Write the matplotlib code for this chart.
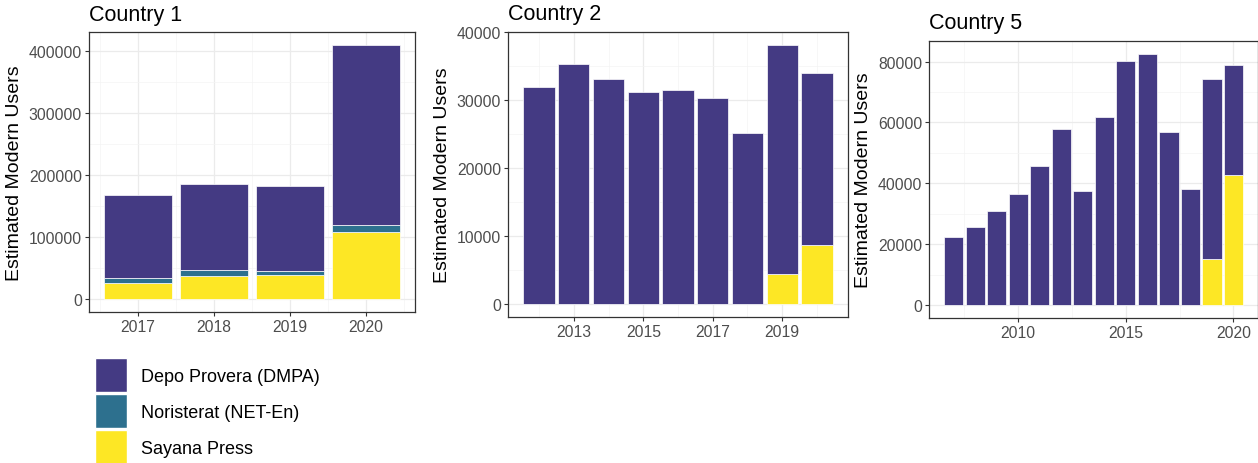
import numpy as np
import matplotlib.pyplot as plt
from matplotlib.patches import Patch
from matplotlib.ticker import MultipleLocator

plt.rcParams['font.family'] = ['Liberation Sans', 'DejaVu Sans']

# colours (viridis-like)
depo_col = '#443A83'
nori_col = '#2D708E'
saya_col = '#FDE725'

# Country 1
c1_years = [2017, 2018, 2019, 2020]
c1_depo = [132000, 138500, 137000, 290000]
c1_nori = [8000, 9500, 7000, 10500]
c1_saya = [27000, 38000, 38500, 109000]

# Country 2
c2_years = [2012, 2013, 2014, 2015, 2016, 2017, 2018, 2019, 2020]
c2_depo = [31900, 35300, 33200, 31200, 31500, 30400, 25250, 33750, 25300]
c2_nori = [0, 0, 0, 0, 0, 0, 0, 0, 0]
c2_saya = [0, 0, 0, 0, 0, 0, 0, 4400, 8750]

# Country 5
c5_years = [2007, 2008, 2009, 2010, 2011, 2012, 2013, 2014, 2015, 2016, 2017, 2018, 2019, 2020]
c5_depo = [22400, 25600, 30900, 36700, 45800, 58000, 37600, 61700, 80100, 82600, 56900, 38050, 59000, 36000]
c5_nori = [0] * 14
c5_saya = [0, 0, 0, 0, 0, 0, 0, 0, 0, 0, 0, 200, 15200, 42800]

legend_labels = ['Depo Provera (DMPA)', 'Noristerat (NET-En)', 'Sayana Press']

fig = plt.figure(figsize=(12.58, 4.64), dpi=100)

panels = [
    ('Country 1', c1_years, c1_depo, c1_nori, c1_saya, [0.0707, 0.3254, 0.2591, 0.6034],
     [2017, 2018, 2019, 2020], 100000),
    ('Country 2', c2_years, c2_depo, c2_nori, c2_saya, [0.4038, 0.3147, 0.2703, 0.6142],
     [2013, 2015, 2017, 2019], 10000),
    ('Country 5', c5_years, c5_depo, c5_nori, c5_saya, [0.7385, 0.3125, 0.2615, 0.5970],
     [2010, 2015, 2020], 20000),
]

for title, years, depo, nori, saya, rect, xt, ystep in panels:
    ax = fig.add_axes(rect)
    years = np.array(years)
    depo = np.array(depo)
    nori = np.array(nori)
    saya = np.array(saya)
    kw = dict(width=0.9, edgecolor='white', linewidth=0.5, zorder=3)
    ax.bar(years, saya, color=saya_col, **kw)
    ax.bar(years, nori, bottom=saya, color=nori_col, **kw)
    ax.bar(years, depo, bottom=saya + nori, color=depo_col, **kw)

    # ggplot-like expansion
    lo, hi = years.min() - 0.45, years.max() + 0.45
    pad = (hi - lo) * 0.05
    ax.set_xlim(lo - pad, hi + pad)
    top = (depo + nori + saya).max()
    ax.set_ylim(-top * 0.05, top * 1.05)

    ax.set_xticks(xt)
    xminor = (xt[1] - xt[0]) / 2
    ax.xaxis.set_minor_locator(MultipleLocator(xminor))
    ax.yaxis.set_major_locator(MultipleLocator(ystep))
    ax.yaxis.set_minor_locator(MultipleLocator(ystep / 2))
    ax.ticklabel_format(axis='y', style='plain', useOffset=False)

    ax.grid(which='major', color='#EBEBEB', lw=0.9, zorder=0)
    ax.grid(which='minor', color='#F4F4F4', lw=0.5, zorder=0)
    ax.set_axisbelow(True)
    for s in ax.spines.values():
        s.set_color('#333333')
        s.set_linewidth(0.9)
    ax.tick_params(which='major', length=3, width=0.8, color='#333333',
                   labelsize=11.3, labelcolor='#4D4D4D', pad=2)
    ax.tick_params(which='minor', length=0)
    ax.set_ylabel('Estimated Modern Users', fontsize=14, color='black', labelpad=4)
    ax.set_title(title, loc='left', fontsize=15.5, pad=9)

handles = [Patch(facecolor=c, edgecolor='white') for c in [depo_col, nori_col, saya_col]]
fig.legend(handles, legend_labels, loc='upper left', bbox_to_anchor=(0.0694, 0.241),
           frameon=False, fontsize=13, handlelength=1.8, handleheight=2.5,
           handletextpad=0.75, labelspacing=0.12, borderaxespad=0)

fig.savefig('out.png', dpi=100)
